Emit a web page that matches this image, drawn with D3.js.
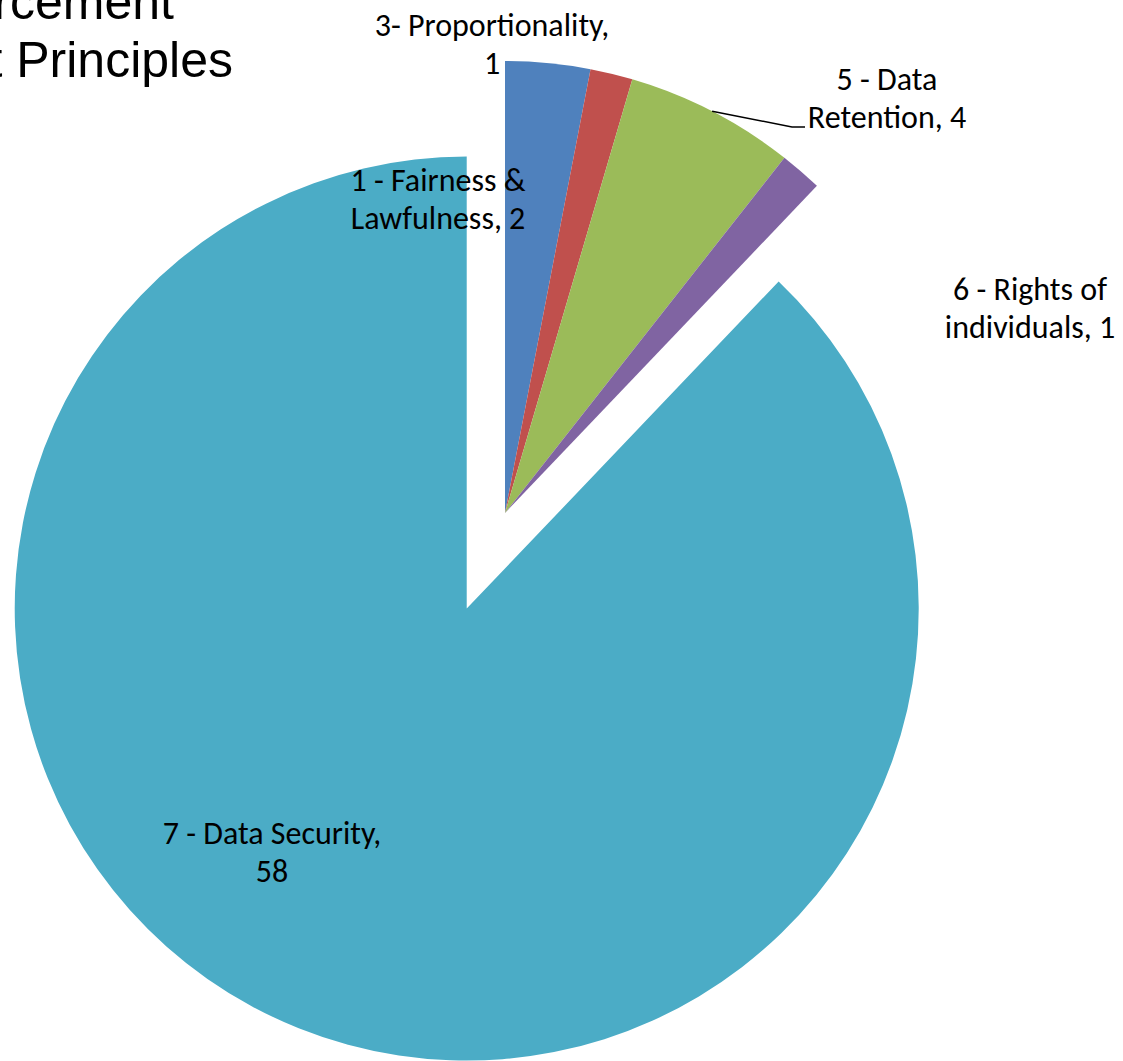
<!DOCTYPE html>
<html lang="en">
<head>
<meta charset="UTF-8">
<title>Enforcement by Principles</title>
<script src="https://cdn.jsdelivr.net/npm/d3@7"></script>
<style>
  body { margin: 0; background: #fff; }
  .title { font-family: "Liberation Sans", Arial, sans-serif; font-size: 50px; fill: #000; }
  .lbl { font-family: Carlito, Calibri, Lato, sans-serif; font-size: 32px; fill: #000; text-anchor: middle; }
</style>
</head>
<body>
<div id="chart"></div>
<script>
// data
var categories = ["1 - Fairness & Lawfulness", "3- Proportionality", "5 - Data Retention", "6 - Rights of individuals", "7 - Data Security"];
var values = [2, 1, 4, 1, 58];
var colors = ["#4F81BD", "#C0504D", "#9BBB59", "#8064A2", "#4BACC6"];
// label text split into two lines, as in the original
var labelLines = [
  ["1 - Fairness &", "Lawfulness, 2"],
  ["3- Proportionality,", "1"],
  ["5 - Data", "Retention, 4"],
  ["6 - Rights of", "individuals, 1"],
  ["7 - Data Security,", "58"]
];
var exploded = [false, false, false, false, true];

var width = 1123, height = 1061;
var cx = 505, cy = 513, radius = 452, explode = 103;
var lineGap = 38;
// label centres (first line), tuned by eye
var labelPos = [[438, 191], [492, 36], [887, 90], [1030, 300], [272, 844]];

var svg = d3.select("#chart").append("svg")
    .attr("width", width)
    .attr("height", height);

var pie = d3.pie().sort(null).value(function(d){ return d; });
var arcs = pie(values);
var arc = d3.arc().innerRadius(0).outerRadius(radius);

var g = svg.append("g").attr("transform", "translate(" + cx + "," + cy + ")");

g.selectAll("path")
  .data(arcs)
  .enter()
  .append("path")
  .attr("d", arc)
  .attr("fill", function(d, i){ return colors[i]; })
  .attr("transform", function(d, i){
    if (!exploded[i]) return null;
    var a = (d.startAngle + d.endAngle) / 2;
    return "translate(" + (Math.sin(a) * explode) + "," + (-Math.cos(a) * explode) + ")";
  });

// leader line for data retention
var ret = arcs[2];
var ma = (ret.startAngle + ret.endAngle) / 2;
var p0 = [cx + Math.sin(ma) * radius, cy - Math.cos(ma) * radius];
svg.append("polyline")
  .attr("points", [p0, [792, 127], [805, 127]].map(function(p){ return p.join(","); }).join(" "))
  .attr("fill", "none")
  .attr("stroke", "#000")
  .attr("stroke-width", 1.5);

// labels
var lab = svg.selectAll("text.lbl")
  .data(labelLines)
  .enter()
  .append("text")
  .attr("class", "lbl")
  .attr("x", function(d, i){ return labelPos[i][0]; })
  .attr("y", function(d, i){ return labelPos[i][1]; });

lab.selectAll("tspan")
  .data(function(d){ return d; })
  .enter()
  .append("tspan")
  .attr("x", function(){ return this.parentNode.getAttribute("x"); })
  .attr("dy", function(d, j){ return j === 0 ? 0 : lineGap; })
  .text(function(d){ return d; });

// title, cut off at left edge like the source
svg.append("text").attr("class", "title")
  .attr("x", 174).attr("y", 19).attr("text-anchor", "end")
  .text("Data Protection Enforcement");
svg.append("text").attr("class", "title")
  .attr("x", 233).attr("y", 77).attr("text-anchor", "end")
  .text("by Data Protection Act Principles");
</script>
</body>
</html>
